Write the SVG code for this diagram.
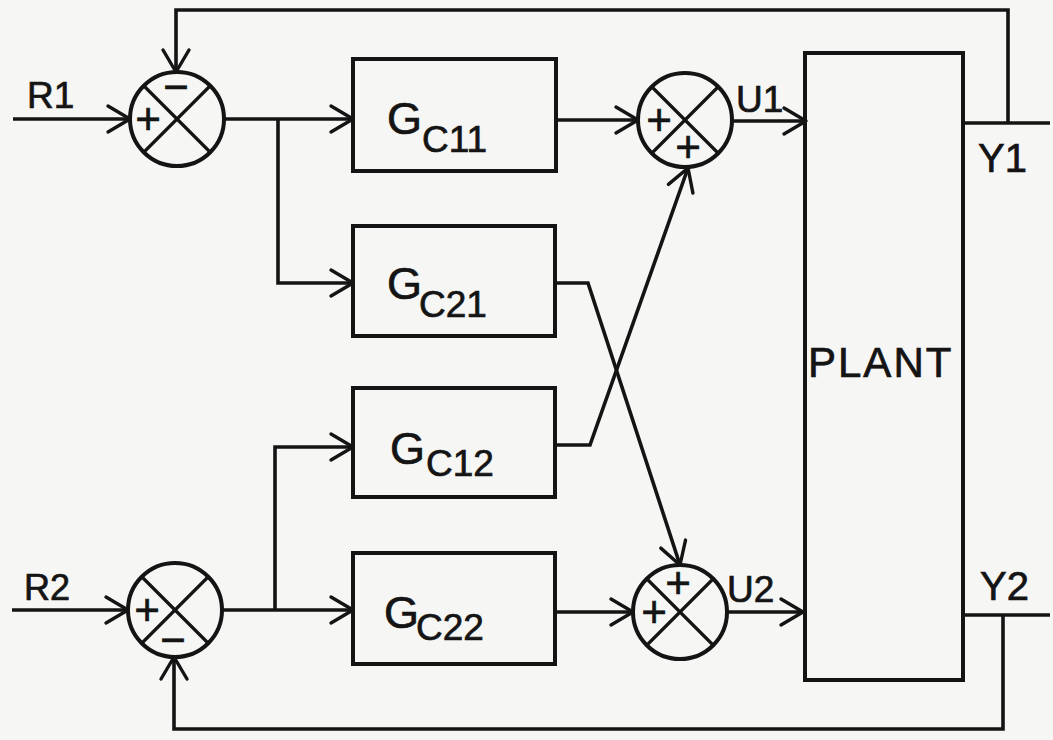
<svg xmlns="http://www.w3.org/2000/svg" width="1053" height="740" viewBox="0 0 1053 740">
<defs>
<style>
.bg{fill:#f6f6f4}
.box{fill:none;stroke:#141414;stroke-width:4}
.sum{fill:none;stroke:#141414;stroke-width:4}
.x{stroke:#141414;stroke-width:3.2}
.ln{fill:none;stroke:#141414;stroke-width:3.6;stroke-linejoin:miter}
.lbl{font-family:"Liberation Sans",Arial,sans-serif;fill:#141414;stroke:#141414;stroke-width:0.7}
.g{font-size:45px}
.sub{font-size:37px}
.sg{font-family:"Liberation Sans",Arial,sans-serif;fill:#141414;stroke:#141414;stroke-width:0.6;font-size:44px;text-anchor:middle}
</style>
<marker id="arr" markerUnits="userSpaceOnUse" viewBox="0 0 26 30" refX="23" refY="15" markerWidth="26" markerHeight="30" orient="auto" overflow="visible">
<path d="M1,2 L23,15 L1,28" fill="none" stroke="#141414" stroke-width="3.4" stroke-linejoin="round" stroke-linecap="round"/>
</marker>
</defs>
<rect class="bg" x="0" y="0" width="1053" height="740"/>

<g id="connectors">
<path class="ln" d="M13,119 H130" marker-end="url(#arr)"/>
<path class="ln" d="M1008,123 V10 H176 V72" marker-end="url(#arr)"/>
<path class="ln" d="M224,119 H353" marker-end="url(#arr)"/>
<path class="ln" d="M278,119 V283 H353" marker-end="url(#arr)"/>
<path class="ln" d="M556,120 H638" marker-end="url(#arr)"/>
<path class="ln" d="M732,121 H806" marker-end="url(#arr)"/>
<path class="ln" d="M555,283 H588 L680,565" marker-end="url(#arr)"/>
<path class="ln" d="M555,445 H590 L688,168" marker-end="url(#arr)"/>
<path class="ln" d="M12,610 H128" marker-end="url(#arr)"/>
<path class="ln" d="M222,610 H353" marker-end="url(#arr)"/>
<path class="ln" d="M275,610 V447 H353" marker-end="url(#arr)"/>
<path class="ln" d="M555,612 H633" marker-end="url(#arr)"/>
<path class="ln" d="M727,612 H803" marker-end="url(#arr)"/>
<path class="ln" d="M963,123 H1050"/>
<path class="ln" d="M961,615 H1050"/>
<path class="ln" d="M1003,615 V729 H174 V657" marker-end="url(#arr)"/>
<text class="lbl" x="27" y="108" font-size="37">R1</text>
<text class="lbl" x="24" y="600" font-size="36">R2</text>
<text class="lbl" x="736" y="112" font-size="37">U1</text>
<text class="lbl" x="727" y="602" font-size="37">U2</text>
<text class="lbl" x="978" y="172" font-size="40">Y1</text>
<text class="lbl" x="980" y="600" font-size="40">Y2</text>
</g>

<g id="sum1">
<circle class="sum" cx="177" cy="119" r="47"/>
<line class="x" x1="144" y1="86" x2="210" y2="152"/>
<line class="x" x1="210" y1="86" x2="144" y2="152"/>
<text class="sg" x="176" y="102">−</text>
<text class="sg" x="148" y="134">+</text>
</g>

<g id="sum2">
<circle class="sum" cx="685" cy="120" r="47"/>
<line class="x" x1="652" y1="87" x2="718" y2="153"/>
<line class="x" x1="718" y1="87" x2="652" y2="153"/>
<text class="sg" x="659" y="135">+</text>
<text class="sg" x="688" y="162">+</text>
</g>

<g id="sum3">
<circle class="sum" cx="175" cy="610" r="47"/>
<line class="x" x1="142" y1="577" x2="208" y2="643"/>
<line class="x" x1="208" y1="577" x2="142" y2="643"/>
<text class="sg" x="147" y="625">+</text>
<text class="sg" x="173" y="655">−</text>
</g>

<g id="sum4">
<circle class="sum" cx="680" cy="612" r="47"/>
<line class="x" x1="647" y1="579" x2="713" y2="645"/>
<line class="x" x1="713" y1="579" x2="647" y2="645"/>
<text class="sg" x="678" y="598">+</text>
<text class="sg" x="654" y="627">+</text>
</g>

<g id="gc11">
<rect class="box" x="353" y="59" width="203" height="112"/>
<text class="lbl g" x="387" y="134">G</text>
<text class="lbl sub" x="422" y="152">C11</text>
</g>

<g id="gc21">
<rect class="box" x="353" y="226" width="202" height="110"/>
<text class="lbl g" x="387" y="299">G</text>
<text class="lbl sub" x="419" y="317">C21</text>
</g>

<g id="gc12">
<rect class="box" x="353" y="388" width="202" height="109"/>
<text class="lbl g" x="390" y="464">G</text>
<text class="lbl sub" x="426" y="476">C12</text>
</g>

<g id="gc22">
<rect class="box" x="353" y="553" width="202" height="111"/>
<text class="lbl g" x="384" y="628">G</text>
<text class="lbl sub" x="416" y="640">C22</text>
</g>

<g id="plant">
<rect class="box" x="805" y="53" width="158" height="627"/>
<text class="lbl" x="808" y="377" font-size="42" letter-spacing="2">PLANT</text>
</g>
</svg>
